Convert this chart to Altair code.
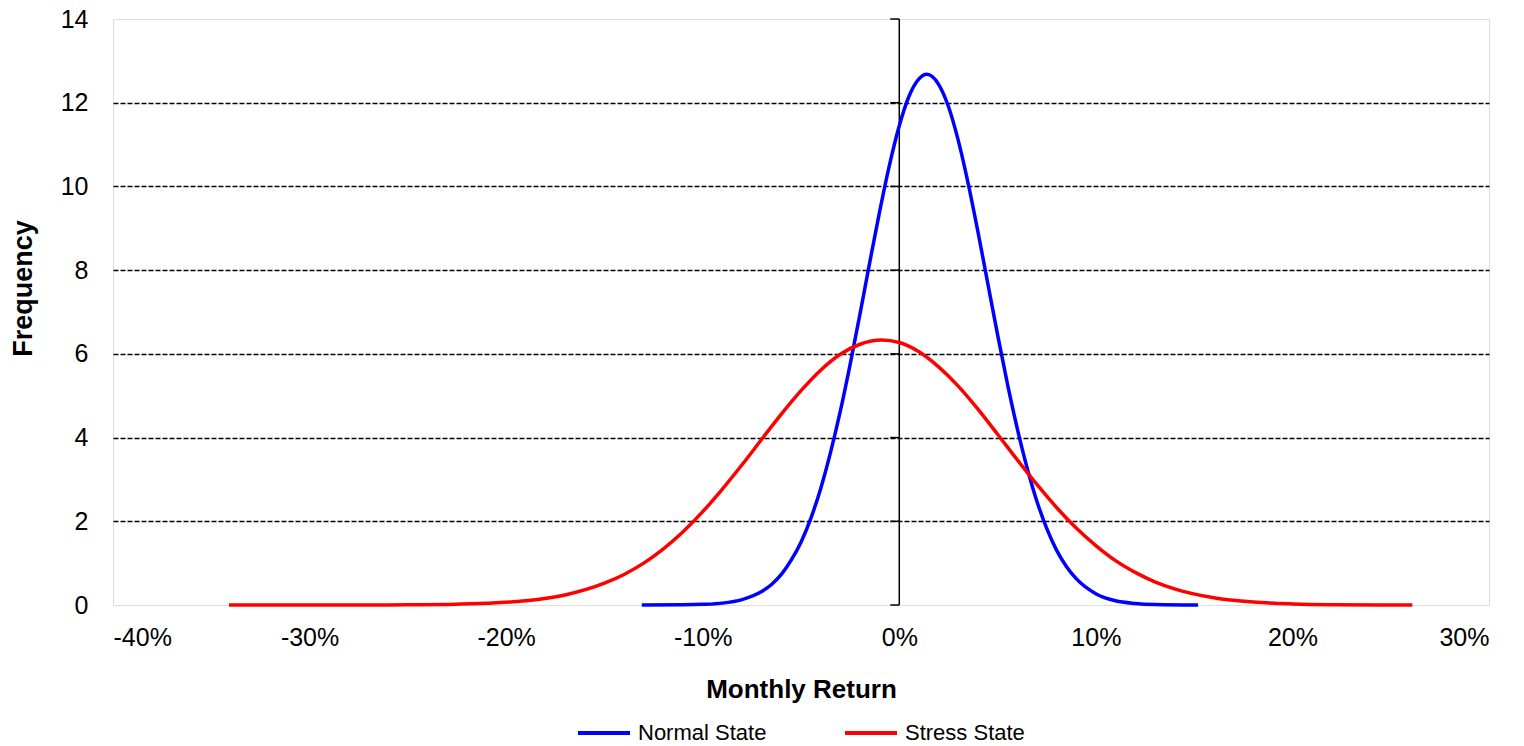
import altair as alt
import pandas as pd

# Monthly return (%) and frequency for each regime
normal_x = [-13.1, -11.0, -10.0, -9.0, -8.0, -7.0, -6.5, -6.0, -5.5, -5.0, -4.5, -4.0,
            -3.5, -3.0, -2.5, -2.0, -1.5, -1.0, -0.5, 0.0, 0.5, 1.0, 1.4, 2.0, 2.5,
            3.0, 3.5, 4.0, 4.5, 5.0, 5.5, 6.0, 6.5, 7.0, 7.5, 8.0, 8.5, 9.0, 10.0,
            11.0, 12.0, 13.0, 15.2]
normal_y = [0.0, 0.004, 0.015, 0.045, 0.13, 0.32, 0.49, 0.73, 1.07, 1.5, 2.07, 2.78,
            3.64, 4.63, 5.75, 6.95, 8.19, 9.4, 10.51, 11.45, 12.16, 12.57, 12.68, 12.44, 11.91,
            11.1, 10.08, 8.92, 7.69, 6.46, 5.29, 4.22, 3.28, 2.48, 1.83, 1.31, 0.92, 0.63, 0.27,
            0.1, 0.037, 0.012, 0.0]

stress_x = [-34.1, -30.0, -27.0, -25.0, -23.0, -21.0, -19.0, -17.0, -15.0, -14.0, -13.0,
            -12.0, -11.0, -10.0, -9.0, -8.0, -7.0, -6.0, -5.0, -4.0, -3.0, -2.0, -0.9,
            0.0, 1.0, 2.0, 3.0, 4.0, 5.0, 6.0, 7.0, 8.0, 9.0, 10.0, 11.0, 12.0, 13.0,
            14.0, 16.0, 18.0, 20.0, 22.0, 26.1]
stress_y = [0.0, 0.0001, 0.0012, 0.004, 0.0135, 0.039, 0.1, 0.24, 0.52, 0.73, 1.0,
            1.34, 1.75, 2.23, 2.77, 3.35, 3.96, 4.56, 5.12, 5.61, 5.99, 6.23, 6.33,
            6.27, 6.05, 5.69, 5.23, 4.68, 4.08, 3.47, 2.88, 2.33, 1.84, 1.42, 1.06, 0.78, 0.555,
            0.386, 0.173, 0.07, 0.026, 0.0086, 0.0]

series_names = ["Normal State", "Stress State"]
series_colors = ["#0000FF", "#FF0000"]

x_ticks = [-40, -30, -20, -10, 0, 10, 20, 30]
y_ticks = [0, 2, 4, 6, 8, 10, 12, 14]

df = pd.concat([
    pd.DataFrame({"ret": normal_x, "freq": normal_y, "state": series_names[0], "order": 0}),
    pd.DataFrame({"ret": stress_x, "freq": stress_y, "state": series_names[1], "order": 1}),
], ignore_index=True)

FONT = "Liberation Sans"

x_scale = alt.Scale(domain=[-40, 30], nice=False)
y_scale = alt.Scale(domain=[0, 14], nice=False)

curves = alt.Chart(df).mark_line(strokeWidth=3.5, interpolate="monotone").encode(
    x=alt.X("ret:Q", scale=x_scale,
            axis=alt.Axis(values=x_ticks, labelExpr="datum.value + '%'", grid=False,
                          domain=False, ticks=False, labelPadding=20,
                          labelFontSize=25, labelColor="black", labelFont=FONT,
                          title="Monthly Return", titleFontSize=26, titleFont=FONT,
                          titleFontWeight="bold", titleColor="black",
                          titleY=92, titleBaseline="alphabetic")),
    y=alt.Y("freq:Q", scale=y_scale,
            axis=alt.Axis(values=y_ticks, domain=False, ticks=False, labelPadding=25,
                          labelFontSize=25, labelColor="black", labelFont=FONT,
                          gridColor={"condition": {"test": "datum.value === 0 || datum.value === 14",
                                                   "value": "transparent"},
                                     "value": "black"},
                          gridDash=[5, 2], gridWidth=1.6,
                          title="Frequency", titleFontSize=27, titleFont=FONT,
                          titleFontWeight="bold", titleColor="black",
                          titleAngle=270, titleX=-90, titleY=269,
                          titleAlign="center", titleBaseline="middle")),
    color=alt.Color("state:N", scale=alt.Scale(domain=series_names, range=series_colors),
                    legend=alt.Legend(title=None, orient="none", direction="horizontal",
                                      legendX=463, legendY=686,
                                      symbolType="stroke", symbolSize=2704,
                                      symbolStrokeWidth=4, labelFontSize=22,
                                      labelFont=FONT, labelColor="black",
                                      labelOffset=6, columnPadding=70)),
    order=alt.Order("order:Q"),
)

zero_axis = pd.DataFrame({"x": [0]})
vline = alt.Chart(zero_axis).mark_rule(strokeWidth=1.5).encode(
    x=alt.X("x:Q", scale=x_scale),
    color=alt.value("black"),
)

tick_df = pd.DataFrame({"v": y_ticks})
ticks = alt.Chart(tick_df).mark_rule(strokeWidth=1.5, x2Offset=-9).encode(
    x=alt.datum(0, scale=x_scale),
    x2=alt.datum(0),
    y=alt.Y("v:Q", scale=y_scale),
    color=alt.value("black"),
)

chart = alt.layer(vline, ticks, curves).properties(
    width=1376,
    height=586,
    autosize=alt.AutoSizeParams(type="none"),
    padding={"left": 113, "top": 19, "right": 35, "bottom": 141},
).configure_view(
    stroke="#999999", strokeDash=[5, 2], strokeWidth=1.6
).configure(background="white")

chart.save("out.html", embed_options={"renderer": "svg", "actions": False})
